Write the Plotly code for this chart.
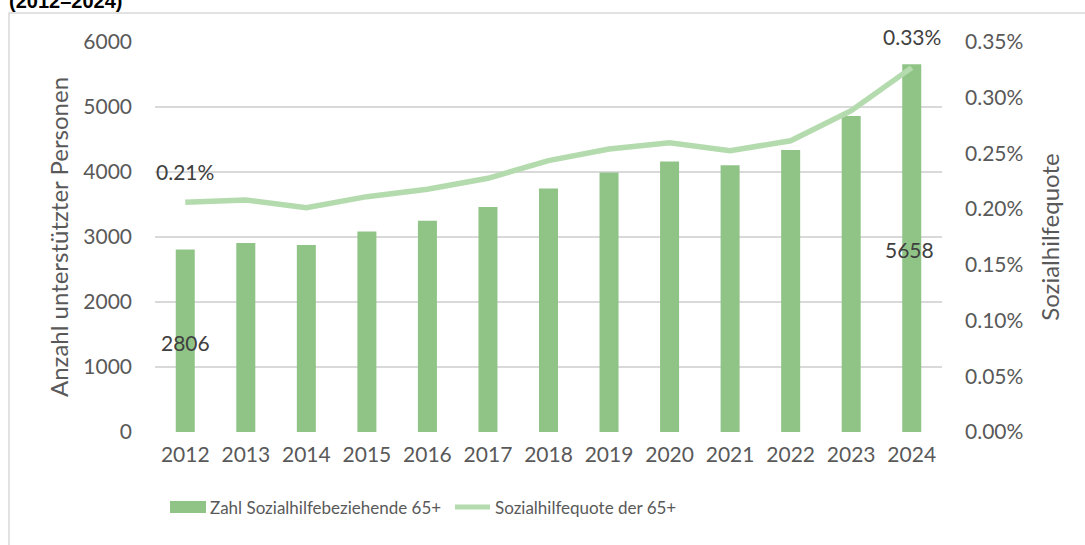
import plotly.graph_objects as go

years = ["2012", "2013", "2014", "2015", "2016", "2017", "2018",
         "2019", "2020", "2021", "2022", "2023", "2024"]
beziehende = [2806, 2908, 2877, 3085, 3251, 3462, 3746,
              3992, 4160, 4103, 4338, 4862, 5658]
quote = [0.002061, 0.002082, 0.002013, 0.002112, 0.002178, 0.002277, 0.002435,
         0.002540, 0.002596, 0.002524, 0.002614, 0.002883, 0.003270]

left_ticks = [0, 1000, 2000, 3000, 4000, 5000, 6000]
right_ticks = [0, 0.0005, 0.001, 0.0015, 0.002, 0.0025, 0.003, 0.0035]

bar_name = "Zahl Sozialhilfebeziehende 65+"
line_name = "Sozialhilfequote der 65+"
title_text = "(2012–2024)"

BAR_COLOR = "#90c487"
LINE_COLOR = "#b4dbad"
GRID = "#d9d9d9"
TICK = "#595959"
LABEL = "#404040"
FONT = "Lato, Open Sans, sans-serif"

W, H = 1085, 545
ML, MR, MT, MB = 155, 143, 42, 113
PW, PH = W - ML - MR, H - MT - MB


def px(x):
    return (x - ML) / PW


def py(y):
    return (H - MB - y) / PH


first, last = 0, len(years) - 1

fig = go.Figure()
fig.add_trace(go.Bar(x=years, y=beziehende, name=bar_name, marker_color=BAR_COLOR,
                     marker_line_width=0, yaxis="y", showlegend=False))
fig.add_trace(go.Scatter(x=years, y=quote, name=line_name, mode="lines",
                         line=dict(color=LINE_COLOR, width=5.5), yaxis="y2",
                         showlegend=False))

lab_font = dict(size=21, color=LABEL, family=FONT)
leg_font = dict(size=17, color=TICK, family=FONT)
annotations = [
    dict(x=first, y=beziehende[first], xref="x", yref="y", text=str(beziehende[first]),
         showarrow=False, yshift=-93, font=lab_font),
    dict(x=last, y=beziehende[last], xref="x", yref="y", text=str(beziehende[last]),
         showarrow=False, yshift=-185, xshift=-2, font=lab_font),
    dict(x=first, y=quote[first], xref="x", yref="y2", text=f"{quote[first]*100:.2f}%",
         showarrow=False, yshift=31, font=lab_font),
    dict(x=last, y=quote[last], xref="x", yref="y2", text=f"{quote[last]*100:.2f}%",
         showarrow=False, yshift=31, font=lab_font),
    # legend texts
    dict(x=px(208), y=py(507), xref="paper", yref="paper", xanchor="left", yanchor="middle",
         text=bar_name, showarrow=False, font=leg_font),
    dict(x=px(493), y=py(507), xref="paper", yref="paper", xanchor="left", yanchor="middle",
         text=line_name, showarrow=False, font=leg_font),
    # title fragment
    dict(x=px(7), y=py(14), xref="paper", yref="paper", xanchor="left", yanchor="bottom",
         text="<b>" + title_text + "</b>", showarrow=False,
         font=dict(size=20, color="#000000", family="Liberation Sans, Arial, sans-serif")),
]

shapes = [
    # outer frame
    dict(type="rect", xref="paper", yref="paper", x0=px(9), x1=px(1100), y0=py(560), y1=py(13),
         line=dict(color=GRID, width=1.5), fillcolor="rgba(0,0,0,0)", layer="below"),
    # legend symbols
    dict(type="rect", xref="paper", yref="paper", x0=px(170), x1=px(206), y0=py(513), y1=py(501),
         line=dict(width=0), fillcolor=BAR_COLOR),
    dict(type="line", xref="paper", yref="paper", x0=px(455), x1=px(490), y0=py(507), y1=py(507),
         line=dict(color=LINE_COLOR, width=5)),
]

fig.update_layout(
    width=W, height=H,
    margin=dict(l=ML, r=MR, t=MT, b=MB, pad=0, autoexpand=False),
    paper_bgcolor="white", plot_bgcolor="white",
    bargap=0.686,
    font=dict(family=FONT, color=TICK, size=21),
    xaxis=dict(type="category", range=[-0.5, len(years) - 0.5], showgrid=False,
               showline=False, zeroline=False,
               tickfont=dict(size=21, color=TICK), ticks="", ticklabelstandoff=8),
    yaxis=dict(range=[0, 6000], tickvals=left_ticks, showgrid=True, gridcolor=GRID, gridwidth=1.5,
               zeroline=False, showline=False, tickfont=dict(size=21, color=TICK),
               ticklabelstandoff=22,
               title=dict(text="Anzahl unterstützter Personen", font=dict(size=24, color=TICK),
                          standoff=7)),
    yaxis2=dict(range=[0, 0.0035], tickvals=right_ticks, tickformat=".2%", overlaying="y",
                side="right", showgrid=False, zeroline=False, showline=False,
                tickfont=dict(size=21, color=TICK), ticklabelstandoff=22,
                title=dict(text="Sozialhilfequote", font=dict(size=24, color=TICK), standoff=19)),
    annotations=annotations,
    shapes=shapes,
    showlegend=False,
)

fig.write_html("out.html", config={"displayModeBar": False},
               post_script="document.body.style.margin='0';")
